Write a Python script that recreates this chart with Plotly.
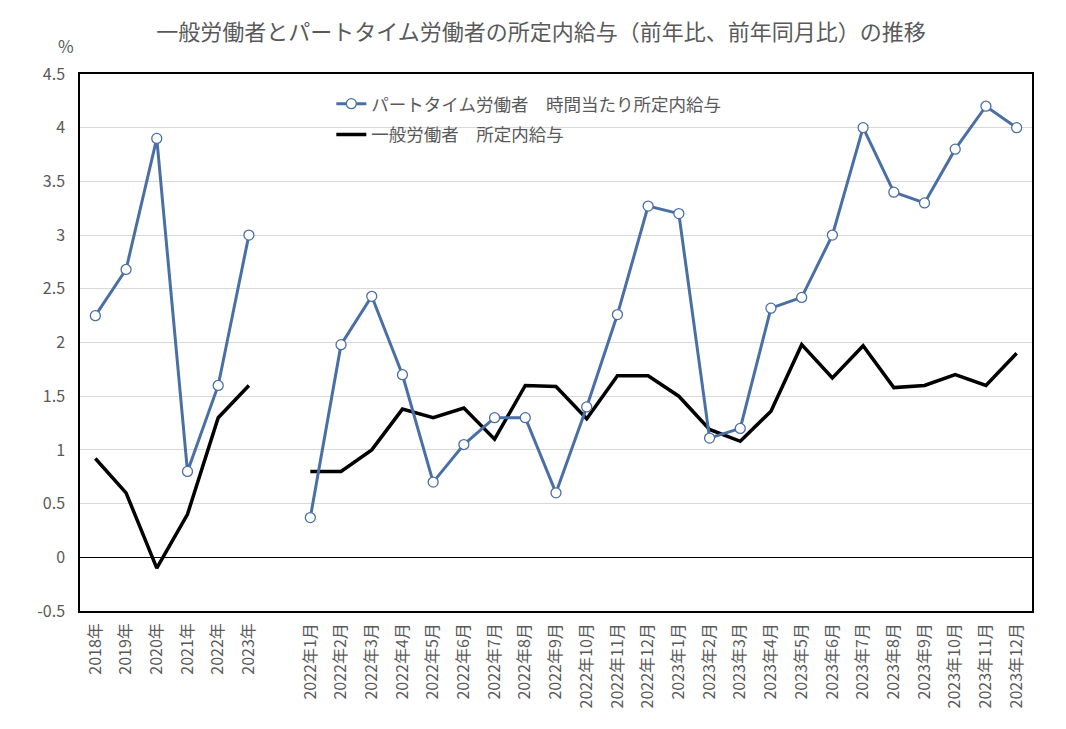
import plotly.graph_objects as go

# 年次と月次の系列（前年比・前年同月比, %）
annual_labels = ["2018年", "2019年", "2020年", "2021年", "2022年", "2023年"]
monthly_labels = [f"2022年{m}月" for m in range(1, 13)] + [f"2023年{m}月" for m in range(1, 13)]

part_annual = [2.25, 2.68, 3.9, 0.8, 1.6, 3.0]
part_monthly = [0.37, 1.98, 2.43, 1.7, 0.7, 1.05, 1.3, 1.3, 0.6, 1.4, 2.26, 3.27,
                3.2, 1.11, 1.2, 2.32, 2.42, 3.0, 4.0, 3.4, 3.3, 3.8, 4.2, 4.0]

general_annual = [0.92, 0.6, -0.1, 0.4, 1.3, 1.6]
general_monthly = [0.8, 0.8, 1.0, 1.38, 1.3, 1.39, 1.1, 1.6, 1.59, 1.29, 1.69, 1.69,
                   1.5, 1.19, 1.08, 1.36, 1.98, 1.67, 1.97, 1.58, 1.6, 1.7, 1.6, 1.9]

y_ticks = [-0.5, 0, 0.5, 1, 1.5, 2, 2.5, 3, 3.5, 4, 4.5]
y_ticktext = ["-0.5", "0", "0.5", "1", "1.5", "2", "2.5", "3", "3.5", "4", "4.5"]

gap = " "
x_all = annual_labels + [gap] + monthly_labels
part_all = part_annual + [None] + part_monthly
general_all = general_annual + [None] + general_monthly

FONT = "Noto Sans CJK JP"
GRAY = "#595959"
BLUE = "#4a6fa5"

fig = go.Figure()

fig.add_trace(go.Scatter(
    x=x_all, y=general_all, mode="lines", name="一般労働者　所定内給与",
    line=dict(color="black", width=3.5), connectgaps=False,
    legendgroup="g", legendrank=2,
))
fig.add_trace(go.Scatter(
    x=x_all, y=part_all, mode="lines+markers", name="パートタイム労働者　時間当たり所定内給与",
    line=dict(color=BLUE, width=3), connectgaps=False,
    legendgroup="p", legendrank=1,
    marker=dict(symbol="circle", size=10, color="white", line=dict(color=BLUE, width=1.3)),
))

# 凡例の背景（目盛線を隠す白い帯）
fig.add_shape(type="rect", xref="paper", yref="paper", x0=0.197, x1=0.76, y0=0.86, y1=0.99,
              fillcolor="white", line_width=0, layer="between")

fig.update_layout(
    width=1066, height=729,
    paper_bgcolor="white", plot_bgcolor="white",
    margin=dict(l=72, r=42, t=66, b=126),
    font=dict(family=FONT, color=GRAY),
    title=dict(text="一般労働者とパートタイム労働者の所定内給与（前年比、前年同月比）の推移",
               x=0.5, xanchor="center", y=0.966, yanchor="middle",
               font=dict(size=22, color=GRAY, family=FONT)),
    showlegend=True,
    legend=dict(x=0.264, y=0.978, xanchor="left", yanchor="top",
                bgcolor="rgba(0,0,0,0)", font=dict(size=17.5, color=GRAY, family=FONT),
                traceorder="grouped", itemwidth=30, tracegroupgap=5,
                borderwidth=0),
    annotations=[dict(text="%", xref="paper", yref="paper", x=-0.004, y=1.026,
                      xanchor="right", yanchor="bottom", showarrow=False,
                      font=dict(size=17, color=GRAY, family=FONT))],
)

fig.update_xaxes(
    type="category", categoryorder="array", categoryarray=x_all,
    tickmode="array", tickvals=annual_labels + monthly_labels,
    tickangle=-90, tickfont=dict(size=16, color=GRAY, family=FONT),
    showgrid=False, showline=True, linecolor="black", linewidth=1.5, mirror=True,
    ticks="", range=[-0.5, len(x_all) - 0.5], ticklabelstandoff=4,
)
fig.update_yaxes(
    range=[-0.5, 4.5], tickmode="array", tickvals=y_ticks, ticktext=y_ticktext,
    tickfont=dict(size=16, color=GRAY, family=FONT),
    showgrid=True, gridcolor="#d9d9d9", gridwidth=1,
    zeroline=True, zerolinecolor="black", zerolinewidth=1.3,
    showline=True, linecolor="black", linewidth=1.5, mirror=True, ticks="",
    ticklabelstandoff=10,
)

fig.write_html("out.html")
